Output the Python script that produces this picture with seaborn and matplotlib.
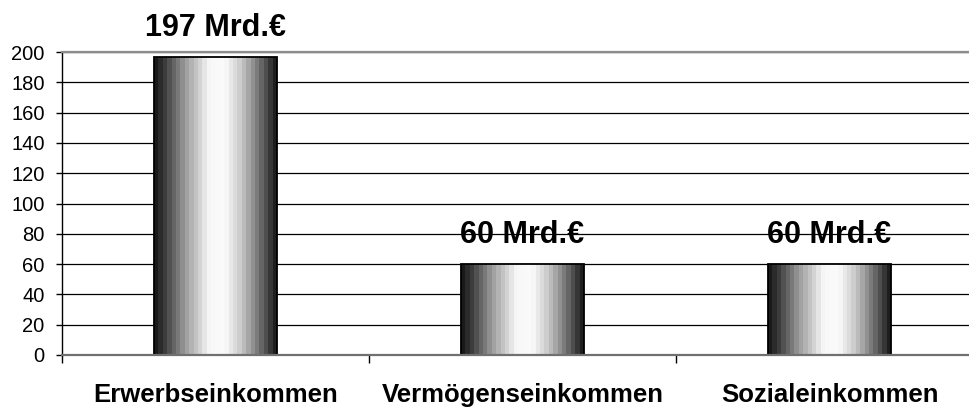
import numpy as np
import pandas as pd
import matplotlib
matplotlib.use('Agg')
import matplotlib.pyplot as plt
from matplotlib.ticker import FixedLocator
import seaborn as sns

# Data
categories = ['Erwerbseinkommen', 'Vermögenseinkommen', 'Sozialeinkommen']
values = [197, 60, 60]
value_labels = ['197 Mrd.€', '60 Mrd.€', '60 Mrd.€']
yticks = list(range(0, 201, 20))

sns.set_style('white')
plt.rcParams['font.family'] = ['Liberation Sans', 'DejaVu Sans']
plt.rcParams['text.color'] = 'black'
plt.rcParams['xtick.color'] = 'black'
plt.rcParams['ytick.color'] = 'black'

fig = plt.figure(figsize=(9.7, 4.07), dpi=100)
# plot area runs a bit past the right edge of the picture (cropped like the original)
ax = fig.add_axes([62 / 970, 52 / 407, 921 / 970, 303 / 407])

df = pd.DataFrame({'kategorie': categories, 'wert': values})
sns.barplot(data=df, x='kategorie', y='wert', width=0.4, color='white',
            edgecolor='black', linewidth=1.3, ax=ax, zorder=2)

# metallic grey gradient inside each bar
pos = [0, 0.08, 0.25, 0.45, 0.58, 0.72, 0.88, 1]
lev = [0.10, 0.25, 0.62, 0.97, 0.98, 0.78, 0.42, 0.12]
shade = np.interp(np.linspace(0, 1, 28), pos, lev)[np.newaxis, :]

for patch, label in zip(ax.patches, value_labels):
    x0, y0 = patch.get_x(), patch.get_y()
    w, h = patch.get_width(), patch.get_height()
    im = ax.imshow(shade, cmap='gray', vmin=0, vmax=1, aspect='auto',
                   extent=[x0, x0 + w, y0, y0 + h], interpolation='nearest',
                   zorder=1.9)
    im.set_clip_path(patch)
    patch.set_facecolor('none')
    ax.annotate(label, (x0 + w / 2, h), xytext=(0, 15), textcoords='offset points',
                ha='center', va='baseline', fontsize=22, fontweight='bold',
                color='black', zorder=0.4, annotation_clip=False)

ax.set_xlim(-0.5, 2.5)
ax.set_ylim(0, 200)
ax.set_yticks(yticks)
ax.set_axisbelow(True)
ax.yaxis.grid(True, color='black', linewidth=0.9)
ax.xaxis.grid(False)

ax.set_xlabel('')
ax.set_ylabel('')
ax.xaxis.set_minor_locator(FixedLocator([-0.5, 0.5, 1.5, 2.5]))
ax.tick_params(axis='x', which='major', length=0, pad=20, labelsize=18.5,
               labelcolor='black')
ax.tick_params(axis='x', which='minor', bottom=True, length=6, width=1, color='black')
ax.tick_params(axis='y', left=True, length=4.5, width=1, color='black', pad=8,
               labelsize=14.5, labelcolor='black')
for t in ax.get_xticklabels():
    t.set_fontweight('bold')

ax.spines['left'].set_color('black')
ax.spines['left'].set_linewidth(1)
ax.spines['bottom'].set_color('#707070')
ax.spines['bottom'].set_linewidth(1.6)
ax.spines['top'].set_color('#8c8c8c')
ax.spines['top'].set_linewidth(1.6)
ax.spines['right'].set_visible(False)

fig.savefig('out.png', dpi=100)
